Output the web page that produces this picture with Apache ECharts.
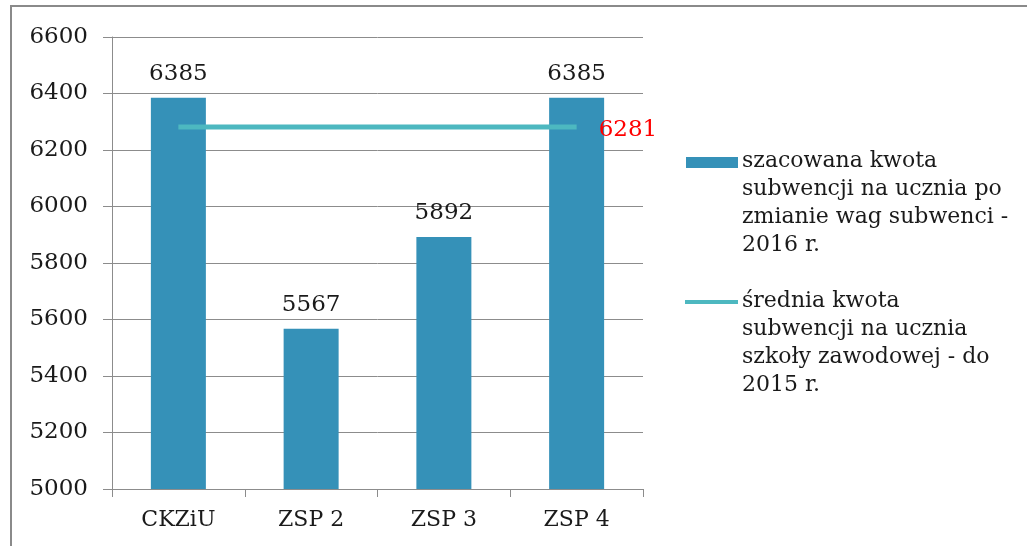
<!DOCTYPE html>
<html>
<head>
<meta charset="utf-8">
<script src="https://cdn.jsdelivr.net/npm/echarts@6/dist/echarts.min.js"></script>
<style>html,body{margin:0;padding:0;background:#fff}#c{width:1027px;height:546px}</style>
</head>
<body>
<div id="c"></div>
<script>
const categories = ['CKZiU', 'ZSP 2', 'ZSP 3', 'ZSP 4'];
const barValues = [6385, 5567, 5892, 6385];
const avgValues = [6281, 6281, 6281, 6281];
const barName = 'szacowana kwota\nsubwencji na ucznia po\nzmianie wag subwenci -\n2016 r.';
const lineName = 'średnia kwota\nsubwencji na ucznia\nszkoły zawodowej - do\n2015 r.';
const yMin = 5000, yMax = 6600, yStep = 200;

const FONT = '"DejaVu Serif", "Liberation Serif", serif';
const chart = echarts.init(document.getElementById('c'), null, {renderer: 'canvas'});
chart.setOption({
  animation: false,
  backgroundColor: '#fff',
  grid: {left: 112, right: 384, top: 37, bottom: 57},
  xAxis: {
    type: 'category',
    data: categories,
    boundaryGap: true,
    axisLine: {lineStyle: {color: '#8c8c8c', width: 1}},
    axisTick: {show: true, length: 8, lineStyle: {color: '#8c8c8c'}},
    axisLabel: {fontFamily: FONT, fontSize: 22, color: '#1a1a1a', margin: 20}
  },
  yAxis: {
    type: 'value',
    min: yMin, max: yMax, interval: yStep,
    axisLine: {show: true, lineStyle: {color: '#8c8c8c', width: 1}},
    axisTick: {show: true, length: 9, lineStyle: {color: '#8c8c8c'}},
    splitLine: {lineStyle: {color: '#8c8c8c', width: 1}},
    axisLabel: {fontFamily: FONT, fontSize: 23, color: '#1a1a1a', margin: 24, formatter: v => String(v)}
  },
  series: [
    {
      name: barName,
      type: 'bar',
      data: barValues,
      barWidth: 55,
      itemStyle: {color: '#3591B8'},
      label: {show: true, position: 'top', distance: 12, fontFamily: FONT, fontSize: 23, color: '#1a1a1a'}
    },
    {
      name: lineName,
      type: 'line',
      data: avgValues,
      symbol: 'none',
      lineStyle: {color: '#4DB8C0', width: 5},
      label: {show: false},
      endLabel: {show: true, formatter: '{c}', fontFamily: FONT, fontSize: 23, color: '#ff0000', distance: 22, offset: [0, 3]}
    }
  ],
  graphic: [
    {type: 'line', shape: {x1: 11, y1: 6, x2: 11, y2: 546}, style: {stroke: '#8a8a8a', lineWidth: 2}},
    {type: 'line', shape: {x1: 10, y1: 6, x2: 1027, y2: 6}, style: {stroke: '#8a8a8a', lineWidth: 2}},
    {type: 'rect', shape: {x: 686, y: 157, width: 52, height: 11}, style: {fill: '#3591B8'}},
    {type: 'text', left: 742, top: 147, style: {text: barName, font: '22px ' + FONT, fill: '#1a1a1a', lineHeight: 28}},
    {type: 'line', shape: {x1: 685, y1: 302, x2: 738, y2: 302}, style: {stroke: '#4DB8C0', lineWidth: 4}},
    {type: 'text', left: 742, top: 287, style: {text: lineName, font: '22px ' + FONT, fill: '#1a1a1a', lineHeight: 28}}
  ]
});
</script>
</body>
</html>
